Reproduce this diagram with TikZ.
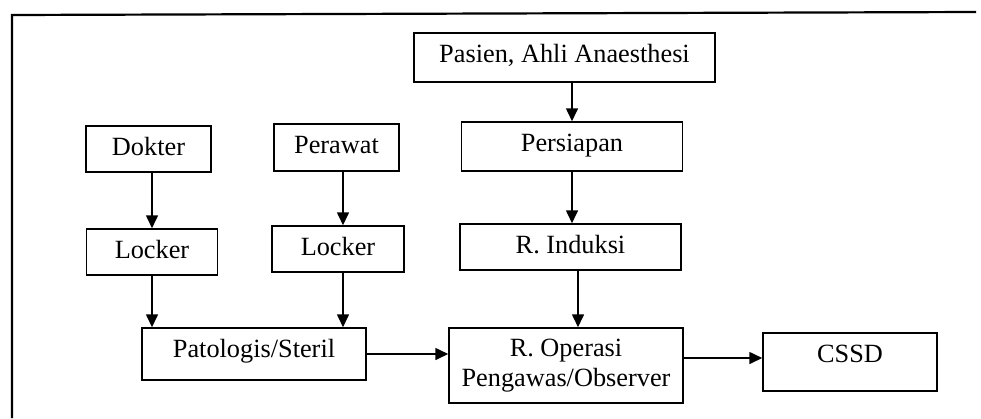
\documentclass[tikz,border=0pt]{standalone}
\usepackage{fontspec}
\setmainfont{Liberation Serif}
\usetikzlibrary{arrows.meta}
\begin{document}
\begin{tikzpicture}[x=1pt,y=-1pt,
  box/.style={draw, line width=1.5pt, inner sep=0pt,
    font=\fontsize{26.3pt}{30pt}\selectfont,
    text height=20pt, text depth=8pt},
  flow/.style={line width=1.6pt,
    -{Triangle[length=13pt,width=12pt]}},
  frame/.style={line width=2.2pt}]
\useasboundingbox (0,0) rectangle (981,418);

% outer frame (top and left edges)
\draw[frame] (12,418) -- (12,15) -- (976,12);

% staff entrances
\node[box, minimum width=125pt, minimum height=46pt] (dokter)  at (148.5,149)  {Dokter};
\node[box, minimum width=125pt, minimum height=47pt] (perawat) at (336.5,147.5) {Perawat};
\node[box, minimum width=131pt, minimum height=46pt] (locker1) at (152,252)    {Locker};
\node[box, minimum width=132pt, minimum height=46pt] (locker2) at (338,249)    {Locker};
\node[box, minimum width=224pt, minimum height=52pt,
      text height=18pt, text depth=11.4pt] (patologis) at (254,354) {Patologis/Steril};

% patient path
\node[box, minimum width=301pt, minimum height=49pt,
      text height=19pt, text depth=9pt] (pasien)    at (564.5,57.5)  {Pasien, Ahli Anaesthesi};
\node[box, minimum width=221pt, minimum height=49pt,
      text height=19pt, text depth=9pt] (persiapan) at (572,146.5) {Persiapan};
\node[box, minimum width=221pt, minimum height=46pt] (induksi) at (570.5,247) {R. Induksi};
\node[box, minimum width=234pt, minimum height=75pt, align=center,
      text height=, text depth=] (operasi) at (566,365.5) {R. Operasi\\Pengawas/Observer};
\node[box, minimum width=174pt, minimum height=58pt,
      text height=18pt, text depth=17.4pt] (cssd) at (850,362) {CSSD};

% offset anchors for connectors
\coordinate (l2n) at ([xshift=5pt]locker2.north);
\coordinate (l2s) at ([xshift=5pt]locker2.south);
\coordinate (ins) at ([xshift=7.5pt]induksi.south);
\coordinate (csw) at ([yshift=4pt]cssd.west);

% connectors
\draw[flow] (locker1.north |- dokter.south) -- (locker1.north);
\draw[flow] (l2n |- perawat.south) -- (l2n);
\draw[flow] (locker1.south) -- (locker1.south |- patologis.north);
\draw[flow] (l2s) -- (l2s |- patologis.north);
\draw[flow] (persiapan.north |- pasien.south) -- (persiapan.north);
\draw[flow] (persiapan.south) -- (persiapan.south |- induksi.north);
\draw[flow] (ins) -- (ins |- operasi.north);
\draw[flow] (patologis.east) -- (patologis.east -| operasi.west);
\draw[flow] (csw -| operasi.east) -- (csw);
\end{tikzpicture}
\end{document}
